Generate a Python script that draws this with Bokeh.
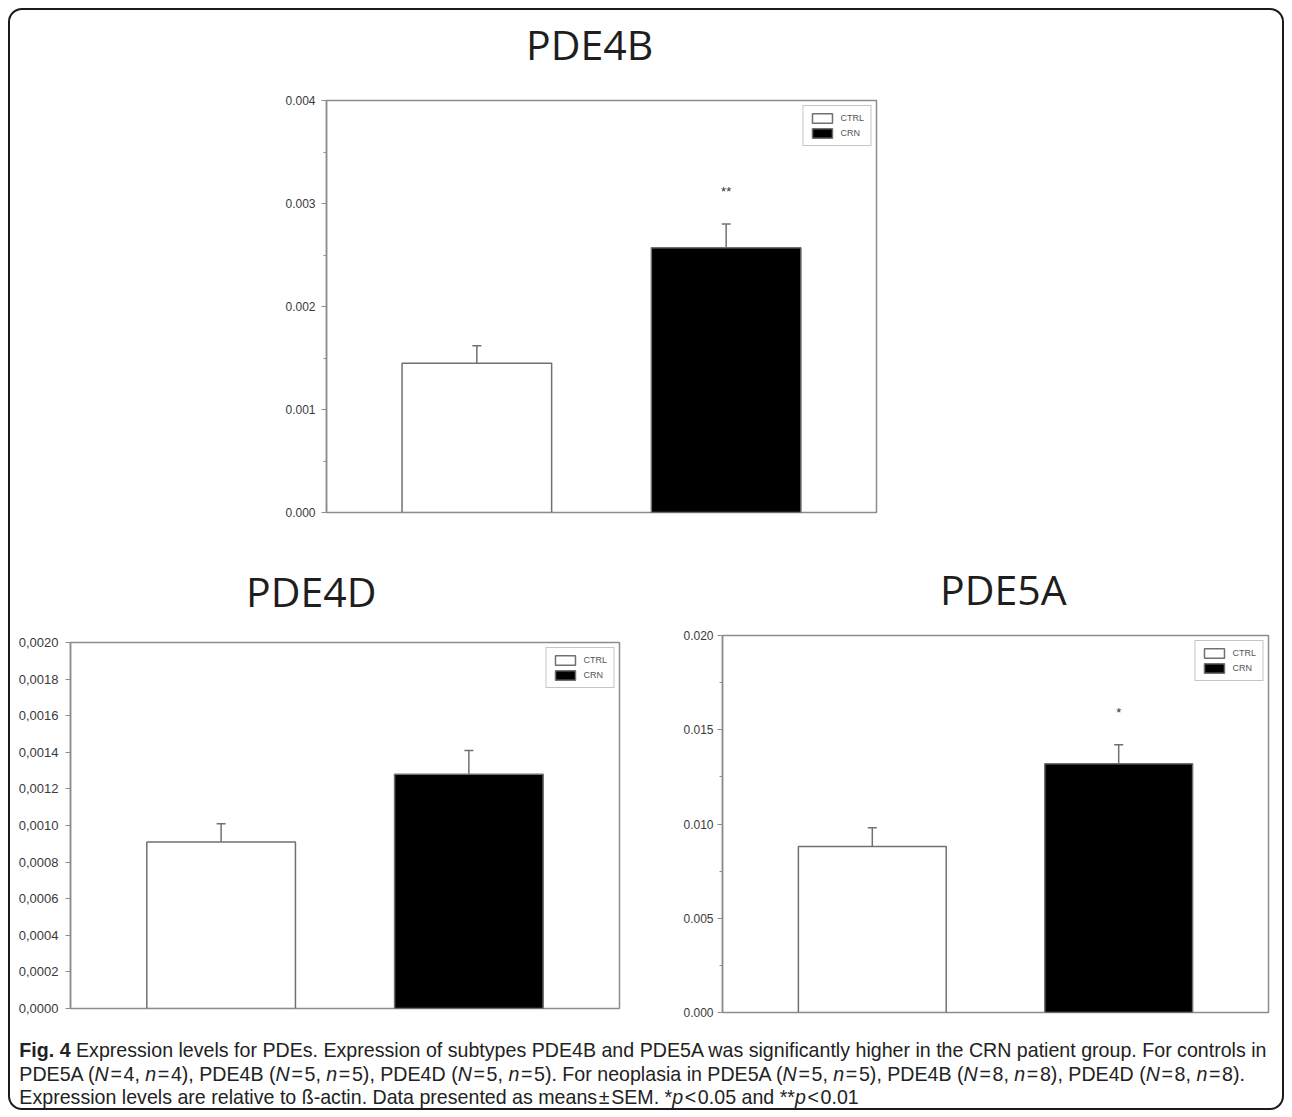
from bokeh.plotting import figure
from bokeh.layouts import column, row
from bokeh.models import (ColumnDataSource, FactorRange, Range1d, FixedTicker, Whisker,
                          TeeHead, Legend, LegendItem, Div, CustomJSTickFormatter)
from bokeh.core.properties import value
from bokeh.embed import file_html
from bokeh.resources import INLINE

# ---------------- data ----------------
groups = ["CTRL", "CRN"]
bar_fill = ["white", "black"]

pde4b_mean = [0.00145, 0.00257]
pde4b_sem = [0.00017, 0.00023]
pde4b_star = ["", "**"]
pde4b_star_y = [0.0, 0.00312]

pde4d_mean = [0.00091, 0.00128]
pde4d_sem = [0.00010, 0.00013]
pde4d_star = ["", ""]
pde4d_star_y = [0.0, 0.0]

pde5a_mean = [0.0088, 0.0132]
pde5a_sem = [0.0010, 0.0010]
pde5a_star = ["", "*"]
pde5a_star_y = [0.0, 0.0159]

pde4b_ticks = [0.000, 0.001, 0.002, 0.003, 0.004]
pde4b_minor = [0.0005, 0.0015, 0.0025, 0.0035]
pde4d_ticks = [0.0000, 0.0002, 0.0004, 0.0006, 0.0008, 0.0010, 0.0012, 0.0014, 0.0016, 0.0018, 0.0020]
pde5a_ticks = [0.000, 0.005, 0.010, 0.015, 0.020]
pde5a_minor = [0.0025, 0.0075, 0.0125, 0.0175]

caption_html = (
    '<b>Fig. 4</b> Expression levels for PDEs. Expression of subtypes PDE4B and PDE5A was '
    'significantly higher in the CRN patient group. For controls in<br>'
    'PDE5A (<i>N</i>&#8202;=&#8202;4, <i>n</i>&#8202;=&#8202;4), PDE4B (<i>N</i>&#8202;=&#8202;5, <i>n</i>&#8202;=&#8202;5), '
    'PDE4D (<i>N</i>&#8202;=&#8202;5, <i>n</i>&#8202;=&#8202;5). For neoplasia in PDE5A (<i>N</i>&#8202;=&#8202;5, <i>n</i>&#8202;=&#8202;5), '
    'PDE4B (<i>N</i>&#8202;=&#8202;8, <i>n</i>&#8202;=&#8202;8), PDE4D (<i>N</i>&#8202;=&#8202;8, <i>n</i>&#8202;=&#8202;8).<br>'
    'Expression levels are relative to &szlig;-actin. Data presented as means&#8202;&plusmn;&#8202;SEM. '
    '*<i>p</i>&#8202;&lt;&#8202;0.05 and **<i>p</i>&#8202;&lt;&#8202;0.01'
)

AX = "#8c8c8c"
LBL = "#3a3a3a"


def title_div(text, width, height, pad_top, pad_left):
    return Div(text='<div style="font-family: \'Open Sans\', sans-serif; font-size: 41px; '
                    'line-height: 41px; color: #1e1e1e; white-space: nowrap; '
                    'padding: %dpx 0 0 %dpx;">%s</div>' % (pad_top, pad_left, text),
               width=width, height=height, margin=0)


def make_panel(mean, sem, star, star_y, ymax, ticks, minor, fmt_code,
               frame_w, frame_h, b_left, b_right, b_top, b_bottom,
               pad, label_size, label_standoff):
    upper = [m + s for m, s in zip(mean, sem)]
    src = ColumnDataSource(dict(group=groups, mean=mean, upper=upper, fill=bar_fill,
                                star=star, star_y=star_y))
    p = figure(x_range=FactorRange(factors=groups, range_padding=pad),
               y_range=Range1d(0, ymax),
               frame_width=frame_w, frame_height=frame_h,
               min_border_left=b_left, min_border_right=b_right,
               min_border_top=b_top, min_border_bottom=b_bottom,
               output_backend="svg", toolbar_location=None,
               background_fill_color="white", border_fill_color=None)

    r = p.vbar(x="group", top="mean", bottom=0, width=0.6, source=src,
               fill_color="fill", line_color="#707070", line_width=1.5)

    w = Whisker(source=src, base="group", upper="upper", lower="mean",
                line_color="#707070", line_width=1.5, level="overlay",
                upper_head=TeeHead(size=9, line_color="#707070", line_width=1.5),
                lower_head=None)
    p.add_layout(w)

    p.text(x="group", y="star_y", text="star", source=src, text_align="center",
           text_baseline="middle", text_font=value("Liberation Sans"),
           text_font_size="13px", text_color="#333333")

    p.xaxis.visible = False
    p.xgrid.visible = False
    p.ygrid.visible = False
    p.outline_line_color = AX
    p.outline_line_width = 1.5

    ya = p.yaxis[0]
    ya.ticker = FixedTicker(ticks=ticks, minor_ticks=minor)
    ya.formatter = CustomJSTickFormatter(code=fmt_code)
    ya.axis_line_color = AX
    ya.axis_line_width = 1.5
    ya.major_tick_line_color = AX
    ya.minor_tick_line_color = AX
    ya.major_tick_in = 0
    ya.major_tick_out = 5
    ya.minor_tick_in = 0
    ya.minor_tick_out = 3
    ya.major_label_text_font = "Liberation Sans"
    ya.major_label_text_font_size = label_size
    ya.major_label_text_color = LBL
    ya.major_label_standoff = label_standoff

    legend = Legend(items=[LegendItem(label=groups[0], renderers=[r], index=0),
                           LegendItem(label=groups[1], renderers=[r], index=1)],
                    location="top_right",
                    label_text_font="Liberation Sans", label_text_font_size="9px",
                    label_text_color="#555555",
                    glyph_width=25, glyph_height=12, spacing=3, padding=6,
                    label_standoff=6, margin=5,
                    border_line_color=AX, border_line_width=1.5,
                    background_fill_alpha=1.0, label_height=12)
    p.add_layout(legend)
    return p


t1 = title_div("PDE4B", 1272, 60, 14, 516)
p1 = make_panel(pde4b_mean, pde4b_sem, pde4b_star, pde4b_star_y, 0.004,
                pde4b_ticks, pde4b_minor, "return tick.toFixed(3);",
                550, 412, 316, 406, 30, 20, 0.103, "12px", 6)

t2 = title_div("PDE4D", 666, 80, 39, 236)
p2 = make_panel(pde4d_mean, pde4d_sem, pde4d_star, pde4d_star_y, 0.0020,
                pde4d_ticks, [], "return tick.toFixed(4).replace('.', ',');",
                549, 366, 60, 57, 30, 22, 0.108, "13px", 7)

t3 = title_div("PDE5A", 606, 73, 37, 264)
p3 = make_panel(pde5a_mean, pde5a_sem, pde5a_star, pde5a_star_y, 0.020,
                pde5a_ticks, pde5a_minor, "return tick.toFixed(3);",
                546, 377, 46, 14, 30, 18, 0.108, "12px", 4)

cap = Div(text='<div style="font-family: \'Liberation Sans\', sans-serif; font-size: 21px; '
               'line-height: 23.5px; color: #222; white-space: nowrap; padding: 8px 0 0 10px; '
               'transform: scaleX(0.934); transform-origin: 0 0;">'
               + caption_html + '</div>',
          width=1272, height=78, margin=0)

layout = column(t1, p1, row(column(t2, p2), column(t3, p3)), cap, width=1276,
                styles={"border": "2px solid #1a1a1a", "border-radius": "14px",
                        "background-color": "white", "margin": "8px 0 0 8px",
                        "box-sizing": "border-box"})

open("out.html", "w").write(file_html(layout, INLINE))
